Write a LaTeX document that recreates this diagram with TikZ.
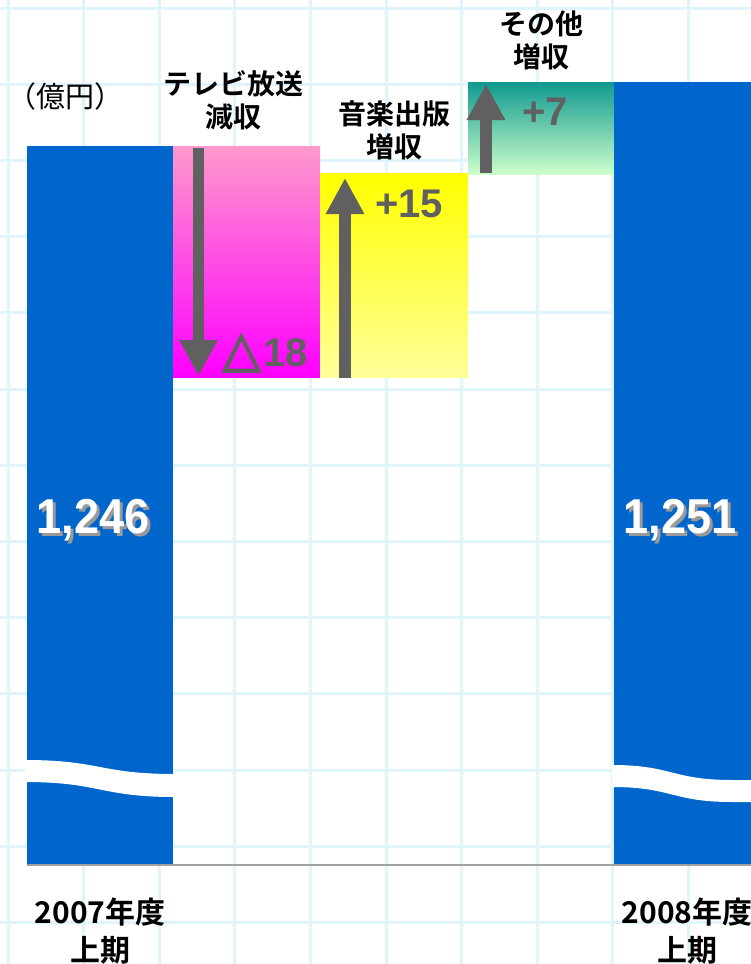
\documentclass[tikz,border=0pt]{standalone}
\usepackage{fontspec}
\setmainfont{Liberation Sans}
\newfontfamily\jp[BoldFont={Noto Sans CJK JP Bold}]{Noto Sans CJK JP}
\newfontfamily\tri[FakeBold=3]{DejaVu Sans}
\usetikzlibrary{calc}
\usetikzlibrary{arrows.meta}
\definecolor{barblue}{HTML}{0066CC}
\definecolor{gridblue}{HTML}{E0F4FC}
\definecolor{arrowgray}{HTML}{606060}
\definecolor{axisgray}{HTML}{A0A0A0}
\definecolor{tvtop}{HTML}{FF99CC}
\definecolor{tvbot}{HTML}{FF00FF}
\definecolor{mustop}{HTML}{FFFF00}
\definecolor{musbot}{HTML}{FFFF99}
\definecolor{othtop}{HTML}{109990}
\definecolor{othbot}{HTML}{CCFFCC}

\begin{document}
\begin{tikzpicture}[x=1pt,y=-1pt,
  gridline/.style={gridblue,line width=3pt},
  bigarrow/.style={arrowgray,line width=11.5pt,-{Triangle[length=36pt,width=36pt]}},
  head/.style={font=\jp\bfseries\fontsize{28}{33}\selectfont,align=center,inner sep=0pt},
  period/.style={font=\jp\bfseries\fontsize{30}{38}\selectfont,align=center,inner sep=0pt},
  delta/.style={arrowgray,font=\bfseries\fontsize{40}{40}\selectfont,inner sep=0pt,anchor=base west},
  total/.style={white,font=\bfseries\fontsize{49}{49}\selectfont,xscale=0.92,inner sep=0pt,anchor=base},
  totalshadow/.style={total,gray!80}]
\useasboundingbox (0,0) rectangle (751,964);
\fill[white] (0,0) rectangle (751,964);

\foreach \k in {0,...,9} \draw[gridline] ({8+75.6*\k},0) -- ({8+75.6*\k},964);
\foreach \k in {0,...,12} \draw[gridline] (0,{8+76.2*\k}) -- (751,{8+76.2*\k});

\fill[barblue] (27,146) rectangle (173,865);
\shade[top color=tvtop, bottom color=tvbot] (173,146) rectangle (320,377);
\shade[top color=mustop, bottom color=musbot] (320,173) rectangle (468,377);
\shade[top color=othtop, bottom color=othbot] (468,82) rectangle (614,174);
\fill[barblue] (614,82) rectangle (751,865);

\fill[white] (25,760) .. controls (100,760) and (100,774) .. (175,774) -- (175,797) .. controls (100,797) and (100,782) .. (25,782) -- cycle;
\fill[white] (612,765) .. controls (672,765) and (672,780) .. (732,780) -- (753,780) -- (753,802) -- (732,802) .. controls (672,802) and (672,787) .. (612,787) -- cycle;

\draw[axisgray,line width=2pt] (27,865) -- (751,865);

\coordinate (tvfrom) at (198.5,148);
\coordinate (tvto) at (198.5,376);
\coordinate (musfrom) at (345,378);
\coordinate (musto) at (345,178);
\coordinate (othfrom) at (486,173);
\coordinate (othto) at (486,84);
\draw[bigarrow] (tvfrom) -- (tvto);
\draw[bigarrow] (musfrom) -- (musto);
\draw[bigarrow] (othfrom) -- (othto);

\node[font=\jp\fontsize{29}{29}\selectfont,inner sep=0pt] (unit) at (66,96) {（億円）};
\node[head] (tvlab) at (233,100) {テレビ放送\\減収};
\node[head] (muslab) at (394,130) {音楽出版\\増収};
\node[head] (othlab) at (541,40) {その他\\増収};

\node[delta] (d18) at (222,366) {{\tri\fontsize{50}{50}\selectfont △}\hspace{3pt}18};
\node[delta] (d15) at (375,217) {+15};
\node[delta] (d7) at (522,125) {+7};

\node[totalshadow] (v07s) at (96,536) {1,246};
\node[total] (v07) at (93,533) {1,246};
\node[totalshadow] (v08s) at (683,536) {1,251};
\node[total] (v08) at (680,533) {1,251};

\node[period] (p07) at (100,931) {2007年度\\上期};
\node[period] (p08) at (687,931) {2008年度\\上期};
\end{tikzpicture}
\end{document}
